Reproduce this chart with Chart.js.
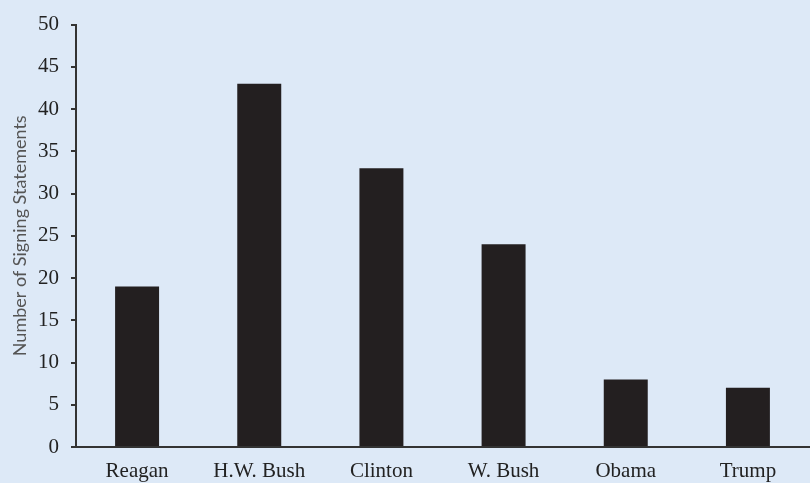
<!DOCTYPE html>
<html>
<head>
<meta charset="utf-8">
<script src="https://cdn.jsdelivr.net/npm/chart.js@4/dist/chart.umd.min.js"></script>
<style>
  html, body { margin: 0; padding: 0; background: #dde9f7; }
  #wrap { width: 810px; height: 483px; }
</style>
</head>
<body>
<div id="wrap"><canvas id="c" width="810" height="483"></canvas></div>
<script>
// Signing statements issued per administration
const presidents = ['Reagan', 'H.W. Bush', 'Clinton', 'W. Bush', 'Obama', 'Trump'];
const signingStatements = [19, 43, 33, 24, 8, 7];
const yTicks = [0, 5, 10, 15, 20, 25, 30, 35, 40, 45, 50];

const bgPlugin = {
  id: 'pageBackground',
  beforeDraw(chart) {
    const ctx = chart.ctx;
    ctx.save();
    ctx.fillStyle = '#dde9f7';
    ctx.fillRect(0, 0, chart.width, chart.height);
    ctx.restore();
  }
};

const serif = "'Liberation Serif', 'DejaVu Serif', serif";

new Chart(document.getElementById('c'), {
  type: 'bar',
  data: {
    labels: presidents,
    datasets: [{
      data: signingStatements,
      backgroundColor: '#231f20',
      borderWidth: 0,
      barPercentage: 0.36,
      categoryPercentage: 1.0
    }]
  },
  options: {
    responsive: false,
    animation: false,
    layout: { padding: { top: 24, right: 1, left: 0, bottom: 0 } },
    plugins: {
      legend: { display: false },
      tooltip: { enabled: false }
    },
    scales: {
      x: {
        grid: { display: false },
        border: { display: true, color: '#333333', width: 2 },
        ticks: {
          color: '#222222',
          font: { family: serif, size: 21 },
          padding: 4,
          maxRotation: 0
        },
        afterFit(scale) { scale.height = 36; }
      },
      y: {
        min: 0,
        max: 50,
        afterBuildTicks(scale) { scale.ticks = yTicks.map(v => ({ value: v })); },
        grid: {
          display: true,
          drawOnChartArea: false,
          drawTicks: true,
          tickLength: 5,
          color: '#333333',
          lineWidth: 2
        },
        border: { display: true, color: '#333333', width: 2 },
        ticks: {
          color: '#222222',
          font: { family: serif, size: 21 },
          padding: 12
        },
        title: {
          display: true,
          text: 'Number of Signing Statements',
          color: '#555555',
          font: { family: "Lato, 'Open Sans', sans-serif", size: 18 },
          padding: { top: 9, bottom: 4 }
        },
        afterFit(scale) { scale.width = 76; }
      }
    }
  },
  plugins: [bgPlugin]
});
</script>
</body>
</html>
